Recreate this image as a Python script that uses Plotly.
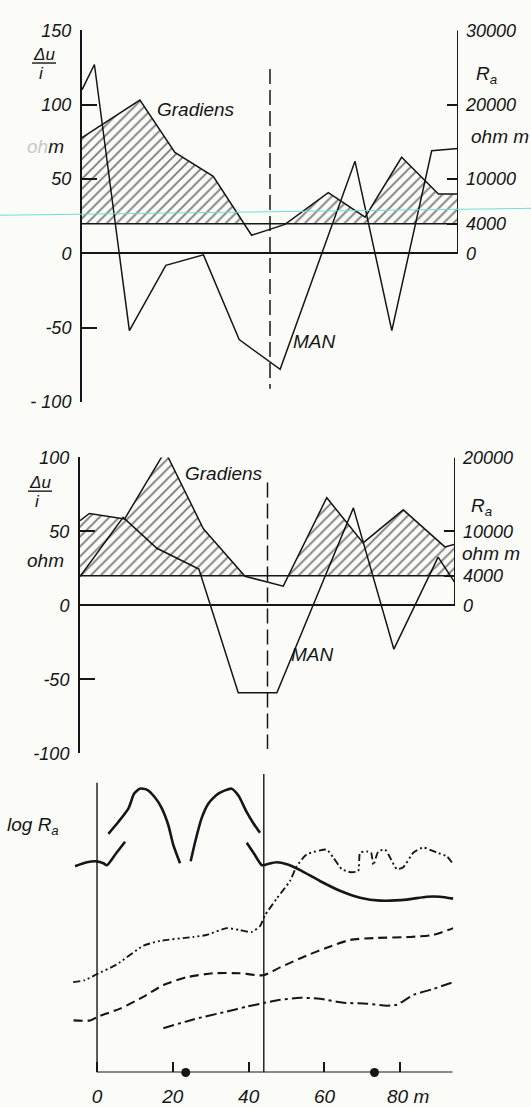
import plotly.graph_objects as go

W, H = 531, 1107
INK = "#161616"
BG = "#fbfbf8"
FONT = "Liberation Sans, Arial, sans-serif"

# ---------------- upper profile ----------------
p1_man_x = [-6, -2.7, 6.6, 16.3, 26.3, 35.8, 46.7, 66.6, 76.4, 87.0, 94]
p1_man_y = [110, 127, -52, -8, -1, -58, -78, 62, -52, 69, 70.5]
p1_grad_x = [-6, 9.4, 18.7, 28.9, 39.1, 48.0, 59.5, 69.3, 79.0, 88.8, 94]
p1_grad_y = [15560, 20620, 13580, 10370, 2440, 3900, 8160, 4860, 12920, 7990, 7990]
p1_left_ticks = [150, 100, 50, 0, -50, -100]
p1_left_text = ["150", "100", "50", "0", "-50", "- 100"]
p1_right_ticks = [30000, 20000, 10000, 4000, 0]
p1_right_text = ["30000", "20000", "10000", "4000", "0"]

# ---------------- middle profile ----------------
p2_man_x = [-6, 5.5, 14.5, 25.7, 36.2, 46.5, 66.9, 77.7, 89.5, 94]
p2_man_y = [19.5, 59.5, 38.6, 24.6, -59, -59, 65.9, -29.6, 32.6, 15.3]
p2_grad_x = [-6, -3.5, 5.9, 16.7, 26.9, 38.0, 44.2, 48.2, 59.8, 69.5, 80.2, 91.3, 94]
p2_grad_y = [11460, 12430, 11690, 20850, 10360, 3930, 3130, 2600, 14560, 8450, 12920, 7910, 8270]
p2_left_ticks = [100, 50, 0, -50, -100]
p2_left_text = ["100", "50", "0", "-50", "-100"]
p2_right_ticks = [20000, 10000, 4000, 0]
p2_right_text = ["20000", "10000", "4000", "0"]

THRESHOLD = 4000   # ohm m, base of the hatched band
PROFILE_END = 94   # m

# ---------------- log Ra profiles ----------------
c1a_x = [-5.8, -2.7, -0.1, 1.7, 2.6, 5.0, 7.4]
c1a_y = [21.0, 21.4, 21.5, 21.3, 21.1, 22.3, 23.5]
c1b_x = [3.0, 5.6, 8.3, 9.8, 11.3, 13.1, 15.3, 17.1, 18.8, 20.1, 21.9]
c1b_y = [24.3, 25.5, 26.9, 28.4, 28.9, 28.8, 28.0, 26.9, 25.2, 23.2, 21.3]
c1c_x = [24.7, 25.9, 27.6, 29.4, 32.0, 35.5, 37.3, 39.5, 41.2, 43.0]
c1c_y = [21.5, 23.5, 25.9, 27.4, 28.4, 28.9, 28.2, 26.5, 25.4, 24.4]
c1d_x = [39.5, 41.4, 43.5, 44.8, 47.4, 50.1, 53.6, 58.8, 64.1, 69.4, 74.7, 81.7, 87.0, 90.5, 94.0]
c1d_y = [23.4, 22.3, 21.1, 21.2, 21.4, 21.2, 20.6, 19.5, 18.5, 17.8, 17.5, 17.6, 17.9, 17.9, 17.7]

c2_x = [-6.3, -3.2, -0.1, 5.2, 12.2, 16.6, 25.4, 28.9, 34.2, 37.7, 40.8, 43.0, 44.3, 47.4,
        50.9, 52.7, 55.3, 60.6, 62.3, 64.6, 66.8, 68.9, 69.4, 71.2, 72.3, 72.9, 74.2, 76.0,
        77.3, 79.1, 80.8, 83.5, 86.1, 89.6, 92.3, 94.0]
c2_y = [9.2, 9.4, 10.0, 11.0, 12.9, 13.4, 13.8, 14.0, 14.7, 14.5, 14.3, 14.9, 16.0, 17.7,
        19.5, 21.0, 22.2, 22.7, 21.9, 20.7, 20.4, 20.5, 22.4, 22.5, 22.4, 21.1, 22.5, 22.7,
        21.9, 20.7, 20.9, 22.4, 22.9, 22.4, 22.0, 21.2]

c3_x = [-6.2, -1.8, 0.3, 6.1, 12.2, 17.5, 23.7, 30.7, 37.7, 43.9, 48.3, 55.3, 60.6, 66.8,
        73.8, 82.6, 88.7, 94.0]
c3_y = [5.3, 5.3, 5.7, 6.5, 7.7, 8.9, 9.7, 10.1, 10.1, 9.9, 10.7, 11.9, 12.7, 13.5,
        13.7, 13.8, 14.0, 14.7]

c4_x = [17.5, 25.4, 34.2, 39.5, 44.3, 48.3, 53.6, 58.8, 65.0, 71.2, 76.4, 79.1, 83.5, 88.7, 94.0]
c4_y = [4.5, 5.4, 6.2, 6.7, 7.1, 7.4, 7.6, 7.5, 7.1, 7.0, 6.8, 6.9, 7.9, 8.5, 9.2]

x_ticks = [0, 20, 40, 60, 80]
x_text = ["0", "20", "40", "60", "\u00a0\u00a0\u00a080 m"]
electrode_x = [23.4, 73.2]
section_x = 44   # m, boundary marked in all three profiles


def px_x(p):
    return p / W


def px_y(p):
    return 1 - p / H


def clip_above(xs, ys, base):
    """Curve raised to `base` where it dips below it, with crossing points inserted."""
    cx, cy = [], []
    for i in range(len(xs)):
        if i > 0 and (ys[i - 1] - base) * (ys[i] - base) < 0:
            t = (base - ys[i - 1]) / (ys[i] - ys[i - 1])
            cx.append(xs[i - 1] + t * (xs[i] - xs[i - 1]))
            cy.append(base)
        cx.append(xs[i])
        cy.append(max(ys[i], base))
    return cx, cy


fig = go.Figure()
line_kw = dict(color=INK, width=1.5)
hatch = dict(shape="/", size=7, solidity=0.27, fgcolor="#000000", bgcolor="rgba(0,0,0,0)")


def add_profile(xa, ya_left, ya_right, man_x, man_y, grad_x, grad_y):
    base_x = [-6, PROFILE_END]
    fig.add_trace(go.Scatter(x=base_x, y=[THRESHOLD, THRESHOLD], xaxis=xa, yaxis=ya_right,
                             mode="lines", line=line_kw, hoverinfo="skip"))
    hx, hy = clip_above(grad_x, grad_y, THRESHOLD)
    fig.add_trace(go.Scatter(x=hx, y=hy, xaxis=xa, yaxis=ya_right, mode="lines",
                             line=dict(width=0), fill="tonexty",
                             fillcolor="rgba(0,0,0,0)", fillpattern=hatch, hoverinfo="skip"))
    fig.add_trace(go.Scatter(x=grad_x, y=grad_y, xaxis=xa, yaxis=ya_right,
                             mode="lines", line=line_kw, name="Gradiens"))
    fig.add_trace(go.Scatter(x=man_x, y=man_y, xaxis=xa, yaxis=ya_left,
                             mode="lines", line=line_kw, name="MAN"))


add_profile("x", "y", "y2", p1_man_x, p1_man_y, p1_grad_x, p1_grad_y)
add_profile("x2", "y3", "y4", p2_man_x, p2_man_y, p2_grad_x, p2_grad_y)

# log Ra curves
solid = dict(color=INK, width=2.6, shape="spline", smoothing=0.6)
for sx, sy in [(c1a_x, c1a_y), (c1b_x, c1b_y), (c1c_x, c1c_y), (c1d_x, c1d_y)]:
    fig.add_trace(go.Scatter(x=sx, y=sy, xaxis="x3", yaxis="y5", mode="lines", line=solid))
fig.add_trace(go.Scatter(x=c2_x, y=c2_y, xaxis="x3", yaxis="y5", mode="lines",
                         line=dict(color=INK, width=1.9, shape="spline", smoothing=0.5,
                                   dash="7px,3px,2px,3px,2px,3px")))
fig.add_trace(go.Scatter(x=c3_x, y=c3_y, xaxis="x3", yaxis="y5", mode="lines",
                         line=dict(color=INK, width=2.1, shape="spline", smoothing=0.6,
                                   dash="9px,5px")))
fig.add_trace(go.Scatter(x=c4_x, y=c4_y, xaxis="x3", yaxis="y5", mode="lines",
                         line=dict(color=INK, width=2.0, shape="spline", smoothing=0.6,
                                   dash="11px,4px,3px,4px")))
fig.add_trace(go.Scatter(x=electrode_x, y=[0] * len(electrode_x), xaxis="x3", yaxis="y5",
                         mode="markers", marker=dict(color=INK, size=9), cliponaxis=False))

tick_font = dict(family=FONT, size=18, color=INK, style="italic")


def left_axis(dom, rng, vals, text, anchor):
    return dict(domain=dom, range=rng, anchor=anchor, showline=True, linecolor=INK, linewidth=2,
                ticks="inside", ticklen=15, tickwidth=1.6, tickcolor=INK,
                tickvals=vals, ticktext=text, tickfont=tick_font, ticklabelstandoff=5,
                zeroline=True, zerolinecolor=INK, zerolinewidth=1.6,
                showgrid=False, fixedrange=True)


def right_axis(over, rng, vals, text, anchor):
    return dict(overlaying=over, side="right", range=rng, anchor=anchor, showline=False,
                ticks="inside", ticklen=11, tickwidth=1.6, tickcolor=INK,
                tickvals=vals, ticktext=text, tickfont=tick_font, ticklabelstandoff=7,
                zeroline=False, showgrid=False, fixedrange=True)


p1_dom = [px_y(399.3), px_y(20.7)]
p2_dom = [px_y(757.0), px_y(455.7)]
p3_dom = [px_y(1082.0), px_y(772.0)]

fig.update_layout(
    width=W, height=H, margin=dict(l=0, r=0, t=0, b=0),
    paper_bgcolor=BG, plot_bgcolor="rgba(0,0,0,0)", showlegend=False,
    font=dict(family=FONT, color=INK),
    xaxis=dict(domain=[px_x(82), px_x(458)], range=[-6, 94], visible=False, anchor="y"),
    xaxis2=dict(domain=[px_x(80), px_x(455)], range=[-6, 94], visible=False, anchor="y3"),
    xaxis3=dict(domain=[px_x(70.5), px_x(453.3)], range=[-7, 94], anchor="y5",
                showline=False, zeroline=False, showgrid=False,
                ticks="inside", ticklen=10, tickwidth=1.6, tickcolor=INK,
                tickvals=x_ticks, ticktext=x_text,
                tickfont=dict(family=FONT, size=19, color=INK, style="italic"),
                ticklabelstandoff=11, fixedrange=True),
    yaxis=left_axis(p1_dom, [-100, 150], p1_left_ticks, p1_left_text, "x"),
    yaxis2=right_axis("y", [-20000, 30000], p1_right_ticks, p1_right_text, "x"),
    yaxis3=left_axis(p2_dom, [-100, 100], p2_left_ticks, p2_left_text, "x2"),
    yaxis4=right_axis("y3", [-20000, 20000], p2_right_ticks, p2_right_text, "x2"),
    yaxis5=dict(domain=p3_dom, range=[0, 31], visible=False, anchor="x3"),
)

# partial right-hand axes, bottom axis, section markers
shapes = [
    dict(type="line", xref="x", yref="y2", x0=PROFILE_END, x1=PROFILE_END, y0=0, y1=30000,
         line=dict(color=INK, width=2)),
    dict(type="line", xref="x2", yref="y4", x0=PROFILE_END, x1=PROFILE_END, y0=0, y1=20000,
         line=dict(color=INK, width=2)),
    dict(type="line", xref="x", yref="y", x0=section_x, x1=section_x, y0=124, y1=-91,
         line=dict(color=INK, width=1.5, dash="15px,6px")),
    dict(type="line", xref="x2", yref="y3", x0=section_x, x1=section_x, y0=83, y1=-97,
         line=dict(color=INK, width=1.5, dash="15px,6px")),
    dict(type="line", xref="x3", yref="y5", x0=0, x1=PROFILE_END - 0.2, y0=0, y1=0,
         line=dict(color=INK, width=2)),
    dict(type="line", xref="x3", yref="y5", x0=0, x1=0, y0=0, y1=29.5,
         line=dict(color=INK, width=1.4)),
    dict(type="line", xref="x3", yref="y5", x0=section_x, x1=section_x, y0=0, y1=30.4,
         line=dict(color=INK, width=1.4)),
    # Δu / i fraction bars
    dict(type="line", xref="paper", yref="paper", x0=px_x(32), x1=px_x(56),
         y0=px_y(54), y1=px_y(54), line=dict(color=INK, width=1.4)),
    dict(type="line", xref="paper", yref="paper", x0=px_x(28), x1=px_x(52),
         y0=px_y(490), y1=px_y(490), line=dict(color=INK, width=1.4)),
    # thin cyan guide line across the upper profile
    dict(type="line", xref="paper", yref="paper", x0=0, x1=1,
         y0=px_y(209), y1=px_y(202), line=dict(color="#6fe0d6", width=1)),
]
fig.update_layout(shapes=shapes)

lab_font = dict(family=FONT, size=19, color=INK, style="italic")
small_font = dict(family=FONT, size=17, color=INK, style="italic")
labels = [
    ("Δu", 44, 45, small_font), ("i", 41, 65, small_font),
    ("<span style='color:#c9c9c4'>oh</span>m", 45, 139, lab_font),
    ("R<sub>a</sub>", 486, 66, lab_font), ("ohm m", 500, 129, lab_font),
    ("Gradiens", 196, 101, lab_font), ("MAN", 314, 338, lab_font),
    ("Δu", 40, 481, small_font), ("i", 37, 501, small_font), ("ohm", 45, 561, lab_font),
    ("R<sub>a</sub>", 481, 506, lab_font), ("ohm m", 491, 553, lab_font),
    ("Gradiens", 224, 472, lab_font), ("MAN", 312, 656, lab_font),
    ("log R<sub>a</sub>", 33, 831, lab_font),
]
for text, x, y, f in labels:
    fig.add_annotation(text=text, x=px_x(x), y=px_y(y), xref="paper", yref="paper",
                       showarrow=False, xanchor="center", yanchor="middle", font=f)

fig.write_html("out.html")
